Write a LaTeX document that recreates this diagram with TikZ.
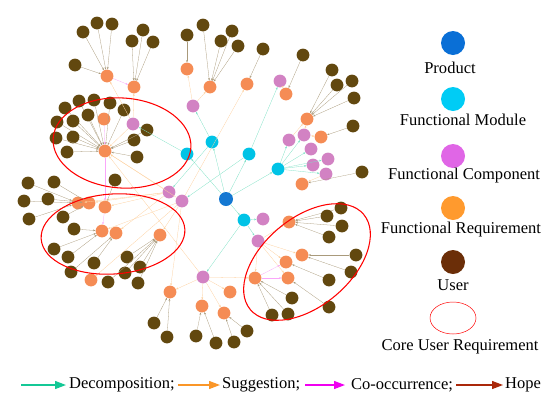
\documentclass[tikz,border=0pt]{standalone}
\usepackage{fontspec}
\setmainfont{Liberation Serif}
\usepackage{tikz}
\usetikzlibrary{arrows.meta, positioning, shapes, calc}
\usepackage{xcolor}

\definecolor{prodcol}{RGB}{20,120,210}
\definecolor{modcol}{RGB}{0,195,230}
\definecolor{compcol}{RGB}{210,130,195}
\definecolor{reqcol}{RGB}{245,140,85}
\definecolor{usrcol}{RGB}{98,72,15}
\definecolor{legprod}{RGB}{10,111,214}
\definecolor{legmod}{RGB}{0,204,245}
\definecolor{legcomp}{RGB}{224,102,230}
\definecolor{legreq}{RGB}{255,154,46}
\definecolor{legusr}{RGB}{107,46,8}
\definecolor{deccol}{RGB}{20,200,150}
\definecolor{sugcol}{RGB}{250,150,40}
\definecolor{coocol}{RGB}{240,0,240}
\definecolor{hopecol}{RGB}{170,40,10}

\begin{document}
\begin{tikzpicture}[
  x=0.5mm, y=-0.5mm,
  dot/.style={circle, inner sep=0pt, minimum size=6.4mm},
  usr/.style={dot, fill=usrcol},
  req/.style={dot, fill=reqcol},
  comp/.style={dot, fill=compcol},
  modl/.style={dot, fill=modcol},
  prod/.style={dot, fill=prodcol, minimum size=7mm},
  link/.style={-{Stealth[length=1.2mm]}, line width=0.4pt},
  dec/.style={link, draw=deccol!55},
  sug/.style={link, draw=sugcol!45},
  coo/.style={link, draw=coocol!35},
  hope/.style={link, draw=usrcol!55},
  core/.style={draw=red, line width=1.5pt},
  legdot/.style={circle, inner sep=0pt, minimum size=12mm},
  legtxt/.style={font=\fontsize{23.5}{27}\selectfont},
  legarr/.style={-{Triangle[length=5.5mm, width=4mm]}, line width=1.8pt}
]
\useasboundingbox (0,0) rectangle (550,399);

% product and functional modules
\node[prod] (P) at (226,199) {};
\foreach \n/\x/\y in {M1/187/154, M2/212/142, M3/249/154, M4/278/169, M5/244/220}
  \node[modl] (\n) at (\x,\y) {};

% functional components
\foreach \n/\x/\y in {C1/193/106, C2/133/124, C3/280/81, C4/289/140, C5/304/135,
    C6/311/149, C7/313/165, C8/328/159, C9/326/174, C10/169/192, C11/182/201,
    C12/263/219, C13/258/241, C14/203/277}
  \node[comp] (\n) at (\x,\y) {};

% functional requirements
\foreach \n/\x/\y in {R1/107/76, R2/134/87, R3/187/69, R4/210/87, R5/247/84,
    R6/286/94, R7/307/119, R8/321/137, R9/302/184, R10/104/119, R11/105/151,
    R12/78/203, R13/89/203, R14/105/207, R15/102/231, R16/116/233, R17/160/235,
    R18/91/280, R19/170/292, R20/230/292, R21/202/306, R22/224/313,
    R24/289/222, R25/302/255, R26/286/262, R27/288/278, R28/255/278}
  \node[req] (\n) at (\x,\y) {};

% users, each with the requirement it hopes for
\foreach \n/\x/\y/\t in {u1/83/32/R1, u2/97/23/R1, u3/112/24/R1, u4/75/65/R1,
    u5/143/30/R2, u6/132/41/R2, u7/153/42/R2, u8/187/35/R3,
    u9/203/25/R4, u10/232/31/R4, u11/221/41/R4, u12/238/46/R4,
    u13/263/49/R5, u14/303/55/R6, u15/332/70/R7, u16/337/85/R7,
    u17/352/81/R7, u18/354/98/R7, u19/353/126/R8, u20/362/172/R9,
    u21/79/101/R11, u22/94/100/R11, u23/110/103/R11, u24/124/110/R11,
    u25/65/108/R11, u26/73/121/R11, u27/88/115/R11, u28/57/122/R11,
    u29/73/137/R11, u30/56/138/R11, u31/67/152/R11, u32/134/140/R11,
    u33/137/157/R11, u34/147/130/R11, u35/115/180/R14,
    u36/28/183/R12, u37/24/201/R12, u38/29/219/R12,
    u39/54/182/R13, u40/48/199/R13, u41/63/217/R13,
    u42/74/229/R15, u43/54/249/R15, u44/68/257/R15,
    u45/94/263/R16, u46/71/272/R16,
    u47/127/257/R17, u48/140/267/R17, u49/125/273/R17, u50/138/283/R17,
    u51/108/282/R17, u52/154/323/R19, u53/167/337/R19,
    u54/196/336/R21, u55/216/343/R21, u56/234/342/R22, u57/247/331/R22,
    u58/341/208/R24, u59/327/216/R24, u60/342/226/R24, u61/329/237/R24,
    u62/356/255/R25, u63/351/272/R25, u64/329/280/R26, u65/329/307/R27,
    u66/292/298/R28, u67/272/315/R28, u68/288/314/R28}
{
  \node[usr] (\n) at (\x,\y) {};
  \draw[hope] (\n) -- (\t);
}

% decomposition
\foreach \a/\b in {P/M1, P/M2, P/M3, P/M4, P/M5, M1/C2, M2/C1, M2/C10,
    M3/C3, M3/C11, M4/C4, M4/C5, M4/C6, M4/C7, M4/C8, M4/C9,
    M5/C12, M5/C13, M5/C14}
  \draw[dec] (\a) -- (\b);

% suggestion
\foreach \a/\b in {C1/R3, C1/R4, C2/R1, C2/R2, C2/R11, C3/R6, C4/R7, C5/R7,
    C5/R8, C9/R9, C11/R5, C10/R11, C10/R12, C10/R13, C10/R14, C10/R16,
    C11/R11, C11/R15, C11/R17, C11/R18, C11/R19, C14/R11, C14/R19, C14/R20,
    C14/R21, C14/R22, C14/R28, C13/R24, C13/R25, C13/R26, C13/R27, C13/R28}
  \draw[sug] (\a) -- (\b);

% co-occurrence
\foreach \a/\b in {R1/R2, R10/R11, R11/R14, R14/R15, R28/R26, R28/R27}
  \draw[coo] (\a) -- (\b);

% core user requirements
\draw[core] (122,143) circle [x radius=34.5mm, y radius=22.5mm, rotate=-4];
\draw[core] (113,234) circle [x radius=36mm, y radius=20mm, rotate=4];
\draw[core] (307,262) circle [x radius=37mm, y radius=22mm, rotate=40];

% legend on the right
\node[legdot, fill=legprod] (lp) at (453,43) {};
\node[legtxt] (lpt) at (450,68) {Product};
\node[legdot, fill=legmod] (lm) at (453,99) {};
\node[legtxt] (lmt) at (463,120) {Functional Module};
\node[legdot, fill=legcomp] (lc) at (453,156) {};
\node[legtxt] (lct) at (464,176) {Functional Component};
\node[legdot, fill=legreq] (lr) at (453,208) {};
\node[legtxt] (lrt) at (461,230) {Functional Requirement};
\node[legdot, fill=legusr] (lu) at (453,262) {};
\node[legtxt] (lut) at (453,285) {User};
\draw[draw=red, line width=0.7pt] (453,318) circle [x radius=11.5mm, y radius=8mm];
\node[legtxt] (lcore) at (460,347) {Core User Requirement};

% legend at the bottom
\coordinate (ld) at (21,385);
\node[legtxt, anchor=west, inner sep=0pt] (ldt) at (69,385) {Decomposition;};
\draw[legarr, deccol] (ld) -- ([xshift=-1.5mm]ldt.west);
\coordinate (ls) at (178,385);
\node[legtxt, anchor=west, inner sep=0pt] (lst) at (222,385) {Suggestion;};
\draw[legarr, sugcol] (ls) -- ([xshift=-1mm]lst.west);
\coordinate (lo) at (305,385);
\node[legtxt, anchor=west, inner sep=0pt] (lot) at (351,385) {Co-occurrence;};
\draw[legarr, coocol] (lo) -- ([xshift=-3mm]lot.west);
\coordinate (lh) at (456,385);
\node[legtxt, anchor=west, inner sep=0pt] (lht) at (505,385) {Hope};
\draw[legarr, hopecol] (lh) -- ([xshift=-1mm]lht.west);
\end{tikzpicture}
\end{document}
